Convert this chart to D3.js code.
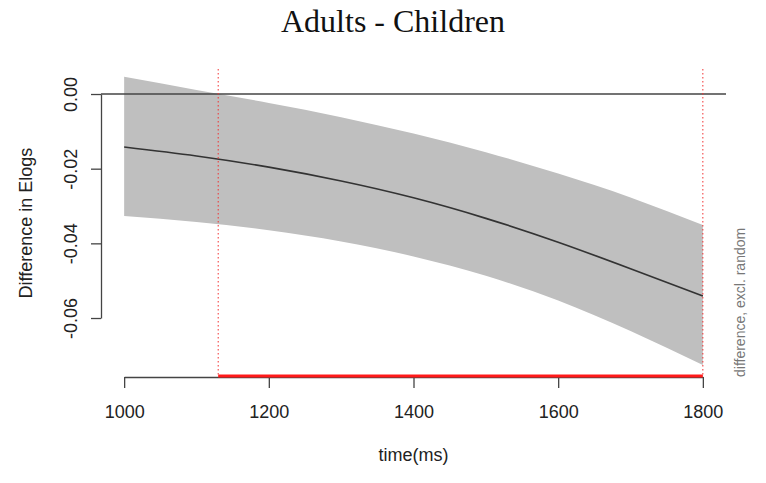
<!DOCTYPE html>
<html>
<head>
<meta charset="utf-8">
<script src="https://cdn.jsdelivr.net/npm/d3@7"></script>
<style>
  body { margin: 0; background: #fff; }
  svg { display: block; }
</style>
</head>
<body>
<svg width="766" height="483"></svg>
<script>
// time points (ms) and the smooth difference with its confidence band
const times = [1000, 1100, 1200, 1300, 1400, 1500, 1600, 1700, 1800];
const fitMean = [-0.0142, -0.0166, -0.0196, -0.0233, -0.0278, -0.0333, -0.0397, -0.0468, -0.0541];
const ciUpper = [0.0046, 0.0011, -0.0024, -0.0062, -0.0106, -0.0156, -0.0213, -0.0277, -0.0351];
const ciLower = [-0.0327, -0.0343, -0.0365, -0.0395, -0.0435, -0.0487, -0.0553, -0.0635, -0.0726];
// window where the difference is significant
const sigRegion = [1130, 1800];
const xTicks = [1000, 1200, 1400, 1600, 1800];
const yTicks = [0, -0.02, -0.04, -0.06];

const svg = d3.select("svg");
const sans = "'Liberation Sans', Arial, Helvetica, sans-serif";

// plot region (R style, 4% padding on x)
const x = d3.scaleLinear().domain([968, 1832]).range([101, 726]);
const y = d3.scaleLinear().domain([-0.0758, 0.0067]).range([377, 69]);

const rows = times.map((t, i) => ({ t: t, m: fitMean[i], lo: ciLower[i], hi: ciUpper[i] }));

// confidence band
svg.append("path")
    .datum(rows)
    .attr("fill", "#bfbfbf")
    .attr("d", d3.area()
        .x(d => x(d.t))
        .y0(d => y(d.lo))
        .y1(d => y(d.hi))
        .curve(d3.curveNatural));

// zero line
svg.append("line")
    .attr("x1", x.range()[0]).attr("x2", x.range()[1])
    .attr("y1", y(0)).attr("y2", y(0))
    .attr("stroke", "#444").attr("stroke-width", 1.3);

// fitted difference
svg.append("path")
    .datum(rows)
    .attr("fill", "none")
    .attr("stroke", "#333")
    .attr("stroke-width", 1.7)
    .attr("d", d3.line()
        .x(d => x(d.t))
        .y(d => y(d.m))
        .curve(d3.curveNatural));

// dotted red borders of the significant window
svg.selectAll("line.sig")
    .data(sigRegion)
    .enter()
    .append("line")
    .attr("class", "sig")
    .attr("x1", d => x(d)).attr("x2", d => x(d))
    .attr("y1", y.range()[1]).attr("y2", y.range()[0])
    .attr("stroke", "#f23030")
    .attr("stroke-width", 1)
    .attr("stroke-dasharray", "1.5,2.5");

// x axis
const xAxisScale = d3.scaleLinear()
    .domain([xTicks[0], xTicks[xTicks.length - 1]])
    .range([x(xTicks[0]), x(xTicks[xTicks.length - 1])]);
const gx = svg.append("g")
    .attr("transform", `translate(0,${y.range()[0]})`)
    .call(d3.axisBottom(xAxisScale)
        .tickValues(xTicks)
        .tickSize(11)
        .tickSizeOuter(0)
        .tickFormat(d3.format("d")));
gx.select(".domain").attr("stroke", "#444").attr("stroke-width", 1.3);
gx.selectAll(".tick line").attr("stroke", "#444").attr("stroke-width", 1.3);
gx.selectAll(".tick text")
    .attr("y", 41).attr("dy", 0)
    .attr("fill", "#222")
    .style("font-family", sans).style("font-size", "18px");

// significant window on the bottom
svg.append("line")
    .attr("x1", x(sigRegion[0])).attr("x2", x(sigRegion[1]))
    .attr("y1", y.range()[0] - 1).attr("y2", y.range()[0] - 1)
    .attr("stroke", "#ff1a1a")
    .attr("stroke-width", 3);

// y axis
const yAxisScale = d3.scaleLinear()
    .domain([yTicks[yTicks.length - 1], yTicks[0]])
    .range([y(yTicks[yTicks.length - 1]), y(yTicks[0])]);
const gy = svg.append("g")
    .attr("transform", `translate(${x.range()[0]},0)`)
    .call(d3.axisLeft(yAxisScale)
        .tickValues(yTicks)
        .tickSize(10)
        .tickSizeOuter(0)
        .tickFormat(d => d.toFixed(2)));
gy.select(".domain").attr("stroke", "#444").attr("stroke-width", 1.3);
gy.selectAll(".tick line").attr("stroke", "#444").attr("stroke-width", 1.3);
gy.selectAll(".tick text")
    .attr("x", 0).attr("dy", 0)
    .attr("transform", "translate(-24,0) rotate(-90)")
    .attr("text-anchor", "middle")
    .attr("fill", "#222")
    .style("font-family", sans).style("font-size", "18px");

// labels
svg.append("text")
    .attr("x", 393).attr("y", 32)
    .attr("text-anchor", "middle")
    .attr("fill", "#111")
    .style("font-family", "'Liberation Serif', 'Times New Roman', serif")
    .style("font-size", "32px")
    .text("Adults - Children");

svg.append("text")
    .attr("x", (x.range()[0] + x.range()[1]) / 2).attr("y", 461)
    .attr("text-anchor", "middle")
    .attr("fill", "#222")
    .style("font-family", sans).style("font-size", "18px")
    .text("time(ms)");

svg.append("text")
    .attr("transform", `translate(32,${(y.range()[0] + y.range()[1]) / 2}) rotate(-90)`)
    .attr("text-anchor", "middle")
    .attr("fill", "#222")
    .style("font-family", sans).style("font-size", "18px")
    .text("Difference in Elogs");

svg.append("text")
    .attr("transform", `translate(745,${y.range()[0]}) rotate(-90)`)
    .attr("text-anchor", "start")
    .attr("fill", "#777")
    .style("font-family", sans).style("font-size", "14px")
    .text("difference, excl. random");
</script>
</body>
</html>
